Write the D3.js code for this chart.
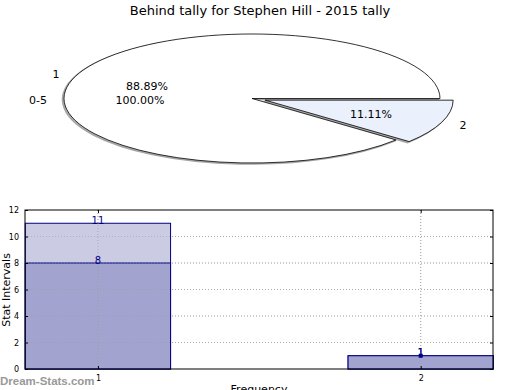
<!DOCTYPE html>
<html><head><meta charset="utf-8">
<script src="https://cdn.jsdelivr.net/npm/d3@7/dist/d3.min.js"></script>
<style>body{margin:0;background:#fff}svg{font-family:"DejaVu Sans",sans-serif}</style>
</head><body><svg id="c" width="520" height="390"></svg>
<script>
const title = "Behind tally for Stephen Hill - 2015 tally";
const pieOuterLabels = ["1", "2"];
const pieOuterValues = [8, 1];
const pieInnerLabels = ["0-5"];
const pieInnerValues = [9];
const barCategories = [1, 2];
const barTotals = [11, 1];
const barValues = [8, 1];
const yTicks = [0, 2, 4, 6, 8, 10, 12];

const svg = d3.select("#c");
svg.append("text").attr("x", 260).attr("y", 15).attr("text-anchor", "middle")
  .attr("font-size", 13).text(title);

// ---------- Pie ----------
const cx = 252, cy = 98.5, rx = 188, ry = 64.5;
const tot = d3.sum(pieOuterValues);
const a0 = Math.PI / 2 - 2 * Math.PI * pieOuterValues[0] / tot;
const pie = d3.pie().sort(null).value(d => d).startAngle(a0).endAngle(a0 + 2 * Math.PI);
const arcs = pie(pieOuterValues);
const arc = d3.arc().innerRadius(0).outerRadius(rx);
const explode = [0, 14];
const pg = svg.append("g").attr("transform", `translate(${cx},${cy}) scale(1,${ry / rx})`);
const off = (d, i) => {
  const m = (d.startAngle + d.endAngle) / 2;
  return [explode[i] * Math.sin(m), -explode[i] * Math.cos(m)];
};
arcs.forEach((d, i) => {
  const [ox, oy] = off(d, i);
  pg.append("path").attr("d", arc(d))
    .attr("transform", `translate(${ox - 1.5},${oy + 3})`)
    .attr("fill", "#999").attr("stroke", "#888").attr("stroke-width", 1.5)
    .attr("vector-effect", "non-scaling-stroke").attr("opacity", 0.75);
});
const fills = ["#ffffff", "#eaf0fc"];
arcs.forEach((d, i) => {
  const [ox, oy] = off(d, i);
  pg.append("path").attr("d", arc(d))
    .attr("transform", `translate(${ox},${oy})`)
    .attr("fill", fills[i]).attr("stroke", "#000").attr("stroke-width", 0.8)
    .attr("vector-effect", "non-scaling-stroke");
});
const pctPos = [[147, 90], [371, 118]];
const labPos = [[56, 78], [463, 129]];
arcs.forEach((d, i) => {
  svg.append("text").attr("x", pctPos[i][0]).attr("y", pctPos[i][1]).attr("text-anchor", "middle")
    .attr("font-size", 11).text((pieOuterValues[i] / tot * 100).toFixed(2) + "%");
  svg.append("text").attr("x", labPos[i][0]).attr("y", labPos[i][1]).attr("text-anchor", "middle")
    .attr("font-size", 11).text(pieOuterLabels[i]);
});
svg.append("text").attr("x", 38).attr("y", 104).attr("text-anchor", "middle")
  .attr("font-size", 11).text(pieInnerLabels[0]);
svg.append("text").attr("x", 140).attr("y", 104).attr("text-anchor", "middle")
  .attr("font-size", 11).text((pieInnerValues[0] / d3.sum(pieInnerValues) * 100).toFixed(2) + "%");

// ---------- Bars ----------
const L = 25, R = 493, T = 210, B = 369;
const x = d3.scaleLinear().domain([0.774, 2.224]).range([L, R]);
const y = d3.scaleLinear().domain([0, 12]).range([B, T]);
const bw = 0.45;
const bg = svg.append("g");
bg.selectAll(".gy").data(yTicks.slice(1, -1)).enter().append("line")
  .attr("x1", L).attr("x2", R).attr("y1", d => y(d)).attr("y2", d => y(d))
  .attr("stroke", "#bbb").attr("stroke-dasharray", "1,2");
bg.selectAll(".gx").data(barCategories).enter().append("line")
  .attr("x1", d => x(d)).attr("x2", d => x(d)).attr("y1", T).attr("y2", B)
  .attr("stroke", "#bbb").attr("stroke-dasharray", "1,2");
bg.selectAll(".bt").data(barTotals).enter().append("rect")
  .attr("x", (d, i) => x(barCategories[i] - bw / 2))
  .attr("width", (d, i) => x(barCategories[i] + bw / 2) - x(barCategories[i] - bw / 2))
  .attr("y", d => y(d)).attr("height", d => B - y(d))
  .attr("fill", "#cbcbe4").attr("stroke", "#000080").attr("stroke-width", 1);
bg.selectAll(".bv").data(barValues).enter().append("rect")
  .attr("x", (d, i) => x(barCategories[i] - bw / 2))
  .attr("width", (d, i) => x(barCategories[i] + bw / 2) - x(barCategories[i] - bw / 2))
  .attr("y", d => y(d)).attr("height", d => B - y(d))
  .attr("fill", "#a3a3d0").attr("stroke", "#000080").attr("stroke-width", 1);
bg.selectAll(".gx2").data(barCategories).enter().append("line")
  .attr("x1", d => x(d)).attr("x2", d => x(d)).attr("y1", T).attr("y2", B)
  .attr("stroke", "#999").attr("stroke-dasharray", "1,2").attr("opacity", 0.6);
bg.selectAll(".gy2").data(yTicks.slice(1, -1)).enter().append("line")
  .attr("x1", L).attr("x2", R).attr("y1", d => y(d)).attr("y2", d => y(d))
  .attr("stroke", "#999").attr("stroke-dasharray", "1,2").attr("opacity", 0.5);
const lab = [];
barTotals.forEach((v, i) => lab.push([barCategories[i], v]));
barValues.forEach((v, i) => lab.push([barCategories[i], v]));
bg.selectAll(".lb").data(lab).enter().append("text")
  .attr("x", d => x(d[0])).attr("y", d => y(d[1]) + 0.5).attr("text-anchor", "middle")
  .attr("font-size", 10).attr("fill", "#000080").text(d => d[1]);
bg.append("rect").attr("x", x(2) - 2).attr("y", y(1) - 2).attr("width", 4).attr("height", 4).attr("fill", "#000080");
bg.append("rect").attr("x", L).attr("y", T).attr("width", R - L).attr("height", B - T)
  .attr("fill", "none").attr("stroke", "#000").attr("stroke-width", 1);
const ya = d3.axisLeft(y).tickValues(yTicks).tickSize(-3).tickPadding(6).tickFormat(d3.format("d"));
svg.append("g").attr("transform", `translate(${L},0)`).call(ya)
  .call(g => g.select(".domain").remove())
  .call(g => g.selectAll("text").attr("font-size", 8).attr("font-family", "DejaVu Sans"));
svg.append("g").attr("transform", `translate(${R},0)`).call(d3.axisRight(y).tickValues(yTicks).tickSize(-3).tickFormat(""))
  .call(g => g.select(".domain").remove());
const xa = d3.axisBottom(x).tickValues(barCategories).tickSize(-3).tickPadding(6).tickFormat(d3.format("d"));
svg.append("g").attr("transform", `translate(0,${B})`).call(xa)
  .call(g => g.select(".domain").remove())
  .call(g => g.selectAll("text").attr("font-size", 8).attr("font-family", "DejaVu Sans"));
svg.append("g").attr("transform", `translate(0,${T})`).call(d3.axisTop(x).tickValues(barCategories).tickSize(-3).tickFormat(""))
  .call(g => g.select(".domain").remove());
svg.append("text").attr("transform", "translate(9.5,290) rotate(-90)").attr("text-anchor", "middle")
  .attr("font-size", 11).text("Stat Intervals");
svg.append("text").attr("x", 259).attr("y", 393).attr("text-anchor", "middle")
  .attr("font-size", 11).text("Frequency");
svg.append("text").attr("x", 0).attr("y", 385).attr("font-size", 11.5).attr("font-weight", "bold")
  .attr("fill", "#999").attr("font-family", "Liberation Sans, sans-serif").text("Dream-Stats.com");
</script></body></html>
